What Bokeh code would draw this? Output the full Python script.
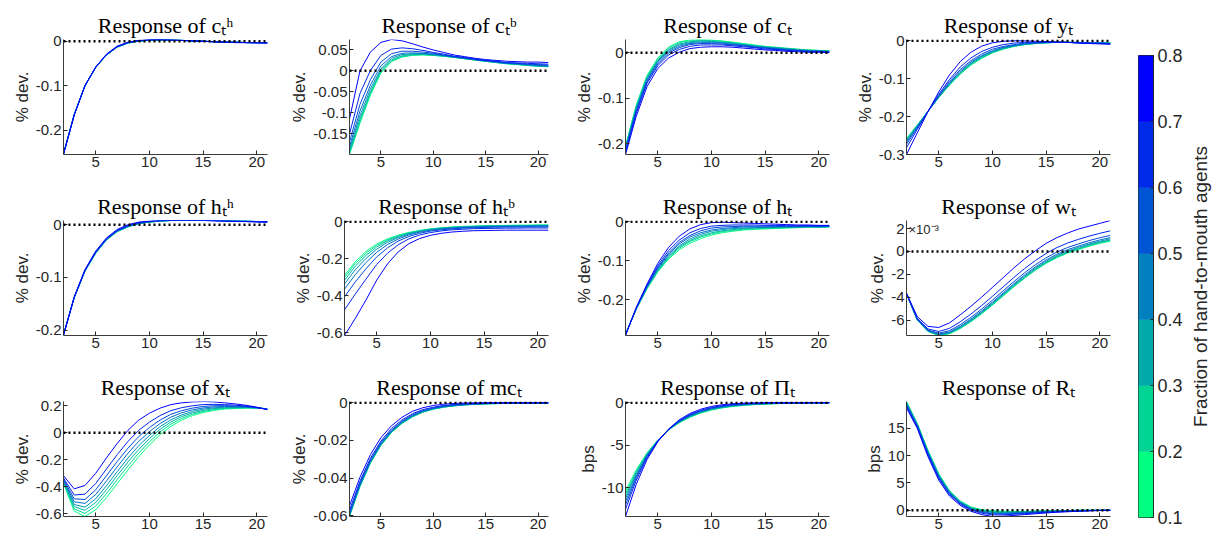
from math import pi
from bokeh.plotting import figure
from bokeh.layouts import row, column
from bokeh.models import Range1d, FixedTicker, Span, Label, CustomJSTickFormatter
from bokeh.embed import file_html
from bokeh.resources import INLINE

# ---------------- data ----------------
periods = [2, 3, 4, 5, 6, 7, 8, 9, 10, 11, 12, 13, 14, 15, 16, 17, 18, 19, 20, 21]
fractions = [0.1, 0.2, 0.3, 0.4, 0.5, 0.6, 0.7, 0.8]
line_colors = ["#00FF80", "#00DB92", "#00B6A4", "#0092B6", "#006DC9", "#0049DB", "#0024ED", "#0000FF"]
cbar_levels = [0.1, 0.2, 0.3, 0.4, 0.5, 0.6, 0.7, 0.8]
cbar_colors = ["#00FF80", "#00D495", "#00AAAA", "#0080BF", "#0055D5", "#002AEA", "#0000FF"]

c_h = [
    [-0.253, -0.165, -0.100, -0.059, -0.031, -0.013, -0.004, 0.000, 0.002, 0.003, 0.003, 0.002, 0.001, 0.000, -0.001, -0.002, -0.002, -0.003, -0.003, -0.003],
    [-0.253, -0.165, -0.100, -0.059, -0.031, -0.013, -0.004, 0.000, 0.002, 0.003, 0.003, 0.002, 0.001, 0.000, -0.001, -0.002, -0.002, -0.003, -0.003, -0.003],
    [-0.253, -0.165, -0.100, -0.059, -0.031, -0.013, -0.004, 0.000, 0.002, 0.003, 0.003, 0.002, 0.001, 0.000, -0.001, -0.002, -0.002, -0.003, -0.003, -0.003],
    [-0.253, -0.165, -0.100, -0.059, -0.031, -0.013, -0.004, 0.001, 0.002, 0.003, 0.003, 0.002, 0.001, 0.000, -0.001, -0.002, -0.002, -0.003, -0.003, -0.003],
    [-0.254, -0.165, -0.100, -0.059, -0.030, -0.013, -0.003, 0.001, 0.003, 0.003, 0.003, 0.002, 0.001, 0.000, -0.001, -0.002, -0.002, -0.003, -0.003, -0.003],
    [-0.254, -0.165, -0.100, -0.058, -0.030, -0.012, -0.003, 0.001, 0.003, 0.003, 0.003, 0.002, 0.001, 0.000, -0.001, -0.002, -0.002, -0.003, -0.003, -0.004],
    [-0.254, -0.166, -0.100, -0.058, -0.030, -0.012, -0.003, 0.001, 0.003, 0.004, 0.003, 0.002, 0.001, 0.000, -0.001, -0.002, -0.003, -0.003, -0.003, -0.004],
    [-0.255, -0.166, -0.100, -0.058, -0.029, -0.011, -0.002, 0.002, 0.004, 0.004, 0.003, 0.002, 0.001, 0.000, -0.001, -0.002, -0.003, -0.003, -0.004, -0.004],
]
c_b = [
    [-0.200, -0.125, -0.058, -0.005, 0.022, 0.033, 0.037, 0.038, 0.037, 0.035, 0.032, 0.029, 0.026, 0.023, 0.020, 0.017, 0.015, 0.013, 0.011, 0.010],
    [-0.197, -0.121, -0.054, -0.002, 0.024, 0.034, 0.038, 0.039, 0.037, 0.035, 0.032, 0.029, 0.026, 0.023, 0.020, 0.017, 0.015, 0.013, 0.011, 0.010],
    [-0.193, -0.115, -0.050, 0.001, 0.026, 0.036, 0.039, 0.040, 0.038, 0.036, 0.033, 0.029, 0.026, 0.023, 0.020, 0.018, 0.016, 0.014, 0.012, 0.011],
    [-0.188, -0.107, -0.043, 0.005, 0.030, 0.039, 0.041, 0.041, 0.039, 0.036, 0.033, 0.030, 0.027, 0.024, 0.021, 0.018, 0.016, 0.014, 0.012, 0.011],
    [-0.181, -0.096, -0.034, 0.012, 0.034, 0.042, 0.043, 0.042, 0.040, 0.037, 0.033, 0.030, 0.027, 0.024, 0.021, 0.018, 0.017, 0.015, 0.013, 0.012],
    [-0.170, -0.080, -0.021, 0.021, 0.041, 0.047, 0.047, 0.045, 0.042, 0.038, 0.034, 0.031, 0.027, 0.024, 0.022, 0.019, 0.018, 0.016, 0.015, 0.014],
    [-0.151, -0.054, 0.001, 0.037, 0.052, 0.055, 0.053, 0.049, 0.044, 0.040, 0.035, 0.032, 0.028, 0.025, 0.023, 0.020, 0.019, 0.018, 0.017, 0.016],
    [-0.115, 0.000, 0.045, 0.068, 0.075, 0.072, 0.065, 0.057, 0.050, 0.044, 0.038, 0.034, 0.030, 0.027, 0.025, 0.023, 0.022, 0.021, 0.021, 0.020],
]
c_all = [
    [-0.205, -0.115, -0.050, -0.012, 0.012, 0.024, 0.028, 0.029, 0.028, 0.026, 0.023, 0.020, 0.017, 0.014, 0.012, 0.010, 0.008, 0.006, 0.005, 0.004],
    [-0.207, -0.118, -0.053, -0.014, 0.010, 0.022, 0.026, 0.027, 0.027, 0.025, 0.022, 0.019, 0.016, 0.013, 0.011, 0.009, 0.007, 0.006, 0.005, 0.004],
    [-0.209, -0.120, -0.055, -0.017, 0.007, 0.019, 0.024, 0.026, 0.025, 0.023, 0.021, 0.018, 0.015, 0.012, 0.011, 0.009, 0.007, 0.005, 0.004, 0.003],
    [-0.211, -0.123, -0.058, -0.019, 0.005, 0.017, 0.022, 0.024, 0.024, 0.022, 0.020, 0.017, 0.014, 0.012, 0.010, 0.008, 0.006, 0.005, 0.004, 0.003],
    [-0.213, -0.126, -0.061, -0.022, 0.002, 0.014, 0.020, 0.022, 0.022, 0.021, 0.018, 0.016, 0.013, 0.011, 0.009, 0.007, 0.005, 0.004, 0.003, 0.002],
    [-0.215, -0.129, -0.064, -0.025, -0.001, 0.011, 0.018, 0.020, 0.020, 0.019, 0.017, 0.015, 0.012, 0.010, 0.008, 0.006, 0.005, 0.003, 0.003, 0.002],
    [-0.219, -0.133, -0.068, -0.029, -0.005, 0.007, 0.014, 0.017, 0.017, 0.017, 0.015, 0.013, 0.011, 0.008, 0.007, 0.005, 0.004, 0.002, 0.002, 0.001],
    [-0.224, -0.140, -0.075, -0.035, -0.012, 0.001, 0.009, 0.012, 0.013, 0.013, 0.012, 0.010, 0.008, 0.006, 0.005, 0.003, 0.002, 0.001, 0.001, 0.000],
]
y_out = [
    [-0.258, -0.222, -0.186, -0.150, -0.117, -0.088, -0.064, -0.046, -0.032, -0.022, -0.015, -0.010, -0.007, -0.005, -0.004, -0.004, -0.004, -0.005, -0.005, -0.006],
    [-0.260, -0.223, -0.186, -0.149, -0.116, -0.087, -0.063, -0.045, -0.031, -0.021, -0.014, -0.010, -0.007, -0.005, -0.004, -0.004, -0.004, -0.005, -0.005, -0.006],
    [-0.261, -0.224, -0.186, -0.149, -0.115, -0.085, -0.061, -0.043, -0.030, -0.020, -0.014, -0.009, -0.007, -0.005, -0.004, -0.004, -0.004, -0.005, -0.005, -0.006],
    [-0.264, -0.225, -0.186, -0.148, -0.113, -0.083, -0.059, -0.041, -0.028, -0.019, -0.013, -0.009, -0.006, -0.005, -0.004, -0.004, -0.004, -0.005, -0.005, -0.006],
    [-0.268, -0.227, -0.186, -0.147, -0.111, -0.080, -0.056, -0.039, -0.026, -0.017, -0.012, -0.008, -0.006, -0.004, -0.004, -0.004, -0.005, -0.005, -0.006, -0.007],
    [-0.273, -0.230, -0.186, -0.145, -0.107, -0.076, -0.052, -0.035, -0.022, -0.015, -0.010, -0.006, -0.005, -0.004, -0.004, -0.004, -0.005, -0.006, -0.006, -0.007],
    [-0.282, -0.234, -0.187, -0.141, -0.102, -0.069, -0.045, -0.028, -0.017, -0.010, -0.006, -0.004, -0.004, -0.003, -0.003, -0.004, -0.005, -0.006, -0.007, -0.008],
    [-0.300, -0.243, -0.187, -0.135, -0.090, -0.055, -0.030, -0.014, -0.005, -0.001, 0.000, 0.000, -0.001, -0.002, -0.003, -0.004, -0.006, -0.007, -0.008, -0.009],
]
h_h = [
    [-0.208, -0.138, -0.088, -0.054, -0.029, -0.013, -0.004, 0.002, 0.005, 0.007, 0.008, 0.008, 0.008, 0.008, 0.008, 0.008, 0.007, 0.007, 0.006, 0.006],
    [-0.208, -0.138, -0.088, -0.054, -0.029, -0.013, -0.004, 0.002, 0.005, 0.007, 0.008, 0.008, 0.008, 0.008, 0.008, 0.008, 0.007, 0.007, 0.006, 0.006],
    [-0.208, -0.138, -0.088, -0.053, -0.028, -0.013, -0.004, 0.002, 0.005, 0.007, 0.008, 0.008, 0.008, 0.008, 0.008, 0.008, 0.007, 0.007, 0.006, 0.006],
    [-0.208, -0.138, -0.087, -0.053, -0.028, -0.012, -0.003, 0.002, 0.005, 0.007, 0.008, 0.008, 0.008, 0.008, 0.008, 0.008, 0.007, 0.007, 0.006, 0.006],
    [-0.209, -0.138, -0.087, -0.053, -0.028, -0.012, -0.003, 0.003, 0.006, 0.007, 0.008, 0.008, 0.008, 0.008, 0.008, 0.007, 0.007, 0.007, 0.006, 0.006],
    [-0.209, -0.137, -0.087, -0.052, -0.027, -0.011, -0.002, 0.003, 0.006, 0.008, 0.008, 0.008, 0.008, 0.008, 0.008, 0.007, 0.007, 0.006, 0.006, 0.005],
    [-0.209, -0.137, -0.086, -0.052, -0.027, -0.011, -0.002, 0.004, 0.006, 0.008, 0.008, 0.008, 0.008, 0.008, 0.008, 0.007, 0.007, 0.006, 0.006, 0.005],
    [-0.210, -0.137, -0.085, -0.050, -0.025, -0.009, 0.000, 0.005, 0.007, 0.008, 0.008, 0.008, 0.008, 0.008, 0.007, 0.007, 0.006, 0.006, 0.005, 0.005],
]
h_b = [
    [-0.290, -0.215, -0.160, -0.120, -0.092, -0.072, -0.057, -0.046, -0.038, -0.032, -0.028, -0.025, -0.023, -0.021, -0.020, -0.019, -0.018, -0.018, -0.017, -0.017],
    [-0.302, -0.226, -0.170, -0.127, -0.097, -0.075, -0.059, -0.048, -0.039, -0.033, -0.029, -0.026, -0.024, -0.022, -0.021, -0.020, -0.019, -0.019, -0.018, -0.018],
    [-0.317, -0.240, -0.182, -0.136, -0.103, -0.080, -0.062, -0.050, -0.041, -0.035, -0.030, -0.027, -0.025, -0.023, -0.022, -0.021, -0.020, -0.020, -0.019, -0.019],
    [-0.336, -0.259, -0.198, -0.148, -0.111, -0.085, -0.066, -0.052, -0.043, -0.036, -0.032, -0.029, -0.027, -0.025, -0.024, -0.023, -0.023, -0.022, -0.021, -0.021],
    [-0.364, -0.286, -0.220, -0.165, -0.123, -0.093, -0.071, -0.056, -0.046, -0.039, -0.034, -0.031, -0.029, -0.027, -0.026, -0.025, -0.024, -0.024, -0.023, -0.023],
    [-0.406, -0.325, -0.254, -0.190, -0.141, -0.104, -0.079, -0.062, -0.050, -0.043, -0.038, -0.034, -0.032, -0.030, -0.029, -0.028, -0.028, -0.027, -0.027, -0.027],
    [-0.476, -0.391, -0.310, -0.231, -0.170, -0.124, -0.092, -0.071, -0.058, -0.049, -0.043, -0.040, -0.037, -0.036, -0.035, -0.034, -0.034, -0.033, -0.033, -0.033],
    [-0.615, -0.523, -0.423, -0.315, -0.228, -0.163, -0.118, -0.090, -0.073, -0.062, -0.055, -0.051, -0.048, -0.047, -0.046, -0.045, -0.045, -0.045, -0.045, -0.045],
]
h_all = [
    [-0.288, -0.225, -0.172, -0.129, -0.096, -0.072, -0.055, -0.043, -0.034, -0.028, -0.024, -0.021, -0.019, -0.018, -0.017, -0.016, -0.015, -0.014, -0.014, -0.013],
    [-0.288, -0.224, -0.171, -0.127, -0.093, -0.068, -0.051, -0.039, -0.031, -0.025, -0.022, -0.019, -0.018, -0.017, -0.016, -0.015, -0.014, -0.013, -0.013, -0.013],
    [-0.289, -0.224, -0.170, -0.125, -0.090, -0.065, -0.048, -0.036, -0.028, -0.023, -0.020, -0.017, -0.016, -0.015, -0.015, -0.014, -0.014, -0.013, -0.013, -0.012],
    [-0.289, -0.224, -0.168, -0.122, -0.087, -0.062, -0.044, -0.032, -0.024, -0.020, -0.017, -0.016, -0.015, -0.014, -0.014, -0.013, -0.013, -0.012, -0.013, -0.012],
    [-0.290, -0.223, -0.167, -0.120, -0.083, -0.057, -0.039, -0.028, -0.021, -0.017, -0.015, -0.013, -0.013, -0.013, -0.012, -0.012, -0.012, -0.011, -0.012, -0.011],
    [-0.290, -0.222, -0.165, -0.117, -0.080, -0.053, -0.035, -0.023, -0.016, -0.013, -0.012, -0.011, -0.011, -0.011, -0.011, -0.011, -0.011, -0.011, -0.011, -0.011],
    [-0.291, -0.221, -0.163, -0.113, -0.074, -0.047, -0.028, -0.017, -0.011, -0.009, -0.008, -0.008, -0.008, -0.009, -0.009, -0.010, -0.010, -0.010, -0.010, -0.010],
    [-0.292, -0.220, -0.160, -0.107, -0.066, -0.037, -0.018, -0.007, -0.002, -0.001, -0.002, -0.003, -0.004, -0.005, -0.006, -0.007, -0.008, -0.008, -0.009, -0.009],
]
# real wage, in units of 1e-3 % dev.
w_wage = [
    [-3.70, -6.00, -7.00, -7.35, -7.20, -6.75, -6.15, -5.45, -4.70, -3.90, -3.10, -2.35, -1.65, -1.05, -0.55, -0.15, 0.15, 0.45, 0.70, 0.90],
    [-3.70, -5.99, -6.99, -7.33, -7.17, -6.71, -6.11, -5.41, -4.65, -3.85, -3.05, -2.30, -1.60, -1.00, -0.50, -0.10, 0.20, 0.50, 0.75, 0.95],
    [-3.70, -5.98, -6.97, -7.31, -7.14, -6.68, -6.07, -5.36, -4.61, -3.80, -3.00, -2.25, -1.55, -0.95, -0.45, -0.05, 0.26, 0.56, 0.81, 1.01],
    [-3.69, -5.97, -6.95, -7.27, -7.10, -6.62, -6.00, -5.29, -4.53, -3.72, -2.92, -2.16, -1.46, -0.86, -0.36, 0.04, 0.35, 0.64, 0.89, 1.10],
    [-3.69, -5.95, -6.92, -7.23, -7.04, -6.55, -5.92, -5.20, -4.44, -3.63, -2.82, -2.06, -1.36, -0.75, -0.25, 0.15, 0.46, 0.75, 1.00, 1.21],
    [-3.69, -5.92, -6.87, -7.15, -6.93, -6.41, -5.77, -5.04, -4.27, -3.45, -2.64, -1.87, -1.17, -0.56, -0.06, 0.34, 0.65, 0.94, 1.19, 1.40],
    [-3.68, -5.85, -6.78, -7.00, -6.73, -6.15, -5.48, -4.73, -3.93, -3.10, -2.28, -1.50, -0.80, -0.18, 0.33, 0.73, 1.05, 1.33, 1.58, 1.80],
    [-3.65, -5.70, -6.55, -6.65, -6.25, -5.55, -4.80, -4.00, -3.15, -2.30, -1.45, -0.65, 0.05, 0.70, 1.20, 1.60, 1.95, 2.20, 2.45, 2.70],
]
x_inv = [
    [-0.377, -0.580, -0.620, -0.570, -0.480, -0.377, -0.275, -0.178, -0.090, -0.013, 0.048, 0.094, 0.127, 0.150, 0.166, 0.176, 0.180, 0.183, 0.183, 0.180],
    [-0.371, -0.564, -0.597, -0.543, -0.451, -0.347, -0.246, -0.151, -0.067, 0.007, 0.064, 0.107, 0.137, 0.158, 0.172, 0.181, 0.183, 0.185, 0.184, 0.179],
    [-0.365, -0.547, -0.574, -0.516, -0.421, -0.317, -0.216, -0.124, -0.043, 0.026, 0.080, 0.120, 0.147, 0.166, 0.179, 0.185, 0.187, 0.187, 0.184, 0.178],
    [-0.359, -0.531, -0.551, -0.489, -0.392, -0.288, -0.187, -0.096, -0.020, 0.046, 0.096, 0.132, 0.158, 0.175, 0.185, 0.190, 0.190, 0.189, 0.185, 0.177],
    [-0.352, -0.511, -0.523, -0.457, -0.357, -0.252, -0.152, -0.064, 0.009, 0.069, 0.116, 0.148, 0.170, 0.184, 0.192, 0.195, 0.194, 0.192, 0.186, 0.176],
    [-0.345, -0.489, -0.494, -0.422, -0.318, -0.213, -0.114, -0.028, 0.039, 0.095, 0.137, 0.164, 0.183, 0.195, 0.201, 0.201, 0.199, 0.195, 0.187, 0.175],
    [-0.335, -0.461, -0.454, -0.376, -0.268, -0.162, -0.064, 0.018, 0.079, 0.128, 0.164, 0.186, 0.200, 0.209, 0.211, 0.209, 0.205, 0.198, 0.188, 0.173],
    [-0.318, -0.415, -0.390, -0.300, -0.186, -0.079, 0.018, 0.094, 0.145, 0.183, 0.209, 0.222, 0.229, 0.232, 0.229, 0.222, 0.214, 0.204, 0.190, 0.170],
]
mc = [
    [-0.0604, -0.0445, -0.0320, -0.0226, -0.0158, -0.0110, -0.0075, -0.0050, -0.0034, -0.0023, -0.0016, -0.0011, -0.0008, -0.0005, -0.0004, -0.0003, -0.0002, -0.0002, -0.0001, -0.0001],
    [-0.0602, -0.0443, -0.0318, -0.0225, -0.0157, -0.0109, -0.0074, -0.0049, -0.0033, -0.0022, -0.0016, -0.0011, -0.0008, -0.0005, -0.0004, -0.0003, -0.0002, -0.0002, -0.0001, -0.0001],
    [-0.0599, -0.0441, -0.0316, -0.0223, -0.0155, -0.0107, -0.0073, -0.0048, -0.0032, -0.0022, -0.0015, -0.0010, -0.0007, -0.0005, -0.0004, -0.0003, -0.0002, -0.0002, -0.0001, -0.0001],
    [-0.0596, -0.0438, -0.0314, -0.0220, -0.0153, -0.0105, -0.0071, -0.0047, -0.0031, -0.0021, -0.0014, -0.0010, -0.0007, -0.0004, -0.0003, -0.0002, -0.0002, -0.0002, -0.0001, -0.0001],
    [-0.0591, -0.0434, -0.0310, -0.0217, -0.0150, -0.0102, -0.0068, -0.0045, -0.0029, -0.0019, -0.0013, -0.0009, -0.0006, -0.0004, -0.0003, -0.0002, -0.0001, -0.0001, -0.0001, -0.0001],
    [-0.0584, -0.0427, -0.0304, -0.0211, -0.0145, -0.0098, -0.0064, -0.0041, -0.0027, -0.0017, -0.0011, -0.0007, -0.0005, -0.0003, -0.0002, -0.0001, -0.0001, -0.0001, 0.0000, 0.0000],
    [-0.0571, -0.0416, -0.0294, -0.0203, -0.0137, -0.0091, -0.0058, -0.0036, -0.0023, -0.0014, -0.0009, -0.0005, -0.0003, -0.0002, -0.0001, -0.0001, 0.0000, 0.0000, 0.0000, 0.0000],
    [-0.0547, -0.0395, -0.0275, -0.0185, -0.0122, -0.0077, -0.0045, -0.0026, -0.0014, -0.0007, -0.0003, -0.0001, 0.0000, 0.0001, 0.0001, 0.0001, 0.0001, 0.0001, 0.0001, 0.0001],
]
# inflation, bps
infl = [
    [-10.40, -7.90, -5.90, -4.40, -3.20, -2.35, -1.70, -1.20, -0.85, -0.60, -0.42, -0.30, -0.21, -0.15, -0.10, -0.07, -0.05, -0.03, -0.02, -0.01],
    [-10.70, -8.07, -5.98, -4.42, -3.19, -2.32, -1.66, -1.16, -0.81, -0.56, -0.39, -0.27, -0.19, -0.13, -0.09, -0.06, -0.04, -0.02, -0.02, -0.01],
    [-11.00, -8.24, -6.06, -4.44, -3.18, -2.28, -1.61, -1.11, -0.76, -0.52, -0.36, -0.25, -0.17, -0.12, -0.07, -0.05, -0.03, -0.02, -0.01, 0.00],
    [-11.30, -8.41, -6.14, -4.46, -3.17, -2.25, -1.57, -1.07, -0.72, -0.49, -0.32, -0.22, -0.15, -0.10, -0.06, -0.04, -0.03, -0.01, -0.01, 0.00],
    [-11.66, -8.61, -6.24, -4.48, -3.16, -2.20, -1.51, -1.01, -0.67, -0.44, -0.29, -0.19, -0.12, -0.08, -0.05, -0.03, -0.02, -0.01, 0.00, 0.01],
    [-12.05, -8.84, -6.34, -4.51, -3.15, -2.16, -1.45, -0.95, -0.61, -0.39, -0.24, -0.15, -0.09, -0.06, -0.03, -0.02, -0.01, 0.00, 0.01, 0.01],
    [-12.56, -9.12, -6.48, -4.54, -3.13, -2.10, -1.38, -0.88, -0.54, -0.33, -0.19, -0.11, -0.06, -0.03, -0.01, 0.00, 0.01, 0.01, 0.02, 0.02],
    [-13.40, -9.60, -6.70, -4.60, -3.10, -2.00, -1.25, -0.75, -0.42, -0.22, -0.10, -0.03, 0.00, 0.02, 0.03, 0.03, 0.03, 0.03, 0.03, 0.03],
]
# policy rate, bps
R_rate = [
    [19.90, 15.90, 11.00, 6.70, 3.60, 1.70, 0.60, 0.10, -0.10, -0.20, -0.20, -0.20, -0.15, -0.10, -0.10, -0.05, 0.00, 0.00, 0.00, 0.00],
    [19.78, 15.81, 10.88, 6.58, 3.50, 1.62, 0.52, 0.01, -0.21, -0.29, -0.28, -0.26, -0.20, -0.14, -0.13, -0.07, -0.02, -0.01, -0.01, 0.00],
    [19.66, 15.72, 10.76, 6.46, 3.40, 1.54, 0.44, -0.08, -0.31, -0.38, -0.35, -0.32, -0.25, -0.18, -0.16, -0.10, -0.04, -0.02, -0.01, 0.00],
    [19.54, 15.63, 10.64, 6.34, 3.30, 1.46, 0.36, -0.17, -0.42, -0.47, -0.43, -0.38, -0.30, -0.22, -0.18, -0.12, -0.06, -0.04, -0.02, -0.01],
    [19.40, 15.52, 10.50, 6.20, 3.18, 1.36, 0.26, -0.28, -0.54, -0.58, -0.52, -0.45, -0.36, -0.27, -0.22, -0.15, -0.08, -0.05, -0.03, -0.01],
    [19.24, 15.41, 10.34, 6.04, 3.05, 1.26, 0.16, -0.40, -0.68, -0.70, -0.61, -0.53, -0.43, -0.32, -0.25, -0.18, -0.11, -0.07, -0.03, -0.01],
    [19.04, 15.25, 10.14, 5.84, 2.88, 1.12, 0.02, -0.55, -0.86, -0.85, -0.74, -0.63, -0.51, -0.39, -0.30, -0.22, -0.14, -0.09, -0.04, -0.01],
    [18.70, 15.00, 9.80, 5.50, 2.60, 0.90, -0.20, -0.80, -1.15, -1.10, -0.95, -0.80, -0.65, -0.50, -0.38, -0.28, -0.20, -0.12, -0.06, -0.02],
]

titles = ["Response of cₜʰ", "Response of cₜᵇ", "Response of cₜ", "Response of yₜ",
          "Response of hₜʰ", "Response of hₜᵇ", "Response of hₜ", "Response of wₜ",
          "Response of xₜ", "Response of mcₜ", "Response of Πₜ", "Response of Rₜ"]
ylabels = ["% dev."] * 10 + ["bps", "bps"]
series = [c_h, c_b, c_all, y_out, h_h, h_b, h_all, w_wage, x_inv, mc, infl, R_rate]
yticks = [
    [-0.2, -0.1, 0], [-0.15, -0.1, -0.05, 0, 0.05], [-0.2, -0.1, 0], [-0.3, -0.2, -0.1, 0],
    [-0.2, -0.1, 0], [-0.6, -0.4, -0.2, 0], [-0.2, -0.1, 0], [-6, -4, -2, 0, 2],
    [-0.6, -0.4, -0.2, 0, 0.2], [-0.06, -0.04, -0.02, 0], [-10, -5, 0], [0, 5, 10, 15],
]
xticks = [5, 10, 15, 20]
cbar_title = "Fraction of hand-to-mouth agents"

AX = "#262626"
fmt_code = "return tick.toString()"


def style_axis(ax, size="15px"):
    ax.major_tick_in = 4
    ax.major_tick_out = 0
    ax.minor_tick_in = 0
    ax.minor_tick_out = 0
    ax.axis_line_color = AX
    ax.axis_line_width = 0.9
    ax.major_tick_line_color = AX
    ax.major_label_text_font = "Liberation Sans"
    ax.major_label_text_font_size = size
    ax.major_label_text_color = AX
    ax.major_label_standoff = 2


def make_panel(i, left_border, top_border, bottom_border):
    data = series[i]
    lo = min(min(min(s) for s in data), 0)
    hi = max(max(max(s) for s in data), 0)
    pad = 0.012 * (hi - lo)
    if hi < pad:          # keep the dotted zero line fully visible at the top edge
        hi = pad
    p = figure(width=left_border + 204 + 20, height=top_border + 115 + bottom_border,
               x_range=Range1d(periods[0], periods[-1]),
               y_range=Range1d(lo, hi), output_backend="svg", toolbar_location=None,
               min_border_left=left_border, min_border_right=20, min_border_top=top_border,
               min_border_bottom=bottom_border, title=titles[i])
    p.title.text_font = "Liberation Serif"
    p.title.text_font_size = "22px"
    p.title.text_font_style = "normal"
    p.title.text_color = "black"
    p.title.align = "center"
    p.title.standoff = 4
    p.outline_line_color = None
    p.xgrid.visible = False
    p.ygrid.visible = False
    for k, s in enumerate(data):
        p.line(periods, s, line_color=line_colors[k], line_width=1.0)
    p.add_layout(Span(location=0, dimension="width", line_color="black",
                      line_width=2.5, line_dash="2 3"))
    p.xaxis.ticker = FixedTicker(ticks=xticks)
    p.yaxis.ticker = FixedTicker(ticks=yticks[i])
    p.yaxis.formatter = CustomJSTickFormatter(code=fmt_code)
    style_axis(p.xaxis[0])
    style_axis(p.yaxis[0])
    p.yaxis.axis_label = ylabels[i]
    p.yaxis.axis_label_text_font = "Liberation Sans"
    p.yaxis.axis_label_text_font_size = "17px"
    p.yaxis.axis_label_text_font_style = "normal"
    p.yaxis.axis_label_text_color = AX
    p.yaxis.axis_label_standoff = 1
    if i == 7:
        p.add_layout(Label(x=periods[0], y=hi, text="×10⁻³", x_offset=2, y_offset=-1,
                           text_baseline="top", text_align="left",
                           text_font="Liberation Sans", text_font_size="13px",
                           text_color=AX))
    return p


rows = []
for r in range(3):
    figs = []
    for cidx in range(4):
        i = r * 4 + cidx
        lb = 63 if cidx == 0 else 57
        tb = 39 if r == 0 else 31
        bb = 35 if r < 2 else 18
        figs.append(make_panel(i, lb, tb, bb))
    rows.append(row(*figs))

grid = column(*rows)

cb = figure(width=58, height=534, x_range=Range1d(0, 1),
            y_range=Range1d(cbar_levels[0], cbar_levels[-1]),
            x_axis_location=None, y_axis_location="right",
            output_backend="svg", toolbar_location=None,
            min_border_left=8, min_border_right=35, min_border_top=55, min_border_bottom=17)
cb.xgrid.visible = False
cb.ygrid.visible = False
cb.quad(left=0, right=1, bottom=cbar_levels[:-1], top=cbar_levels[1:],
        fill_color=cbar_colors, line_color=cbar_colors, line_width=0.5)
cb.outline_line_color = AX
cb.outline_line_width = 1
cb.yaxis.ticker = FixedTicker(ticks=cbar_levels)
cb.yaxis.formatter = CustomJSTickFormatter(code=fmt_code)
style_axis(cb.yaxis[0], size="18px")
cb.yaxis.major_tick_in = 3
cb.yaxis.major_label_standoff = 4

# separate strip holding the rotated colour-bar title (so it is not clipped)
lab = figure(width=24, height=534, x_range=Range1d(0, 1),
             y_range=Range1d(cbar_levels[0], cbar_levels[-1]),
             x_axis_location=None, y_axis_location=None,
             output_backend="svg", toolbar_location=None,
             min_border_left=0, min_border_right=0, min_border_top=55, min_border_bottom=17)
lab.outline_line_color = None
lab.xgrid.visible = False
lab.ygrid.visible = False
lab.add_layout(Label(x=0.5, y=(cbar_levels[0] + cbar_levels[-1]) / 2, angle=pi / 2,
                     text=cbar_title, text_align="center", text_baseline="middle",
                     text_font="Liberation Sans", text_font_size="19px",
                     text_color=AX))

layout = row(grid, cb, lab)

open("out.html", "w").write(file_html(layout, INLINE))
